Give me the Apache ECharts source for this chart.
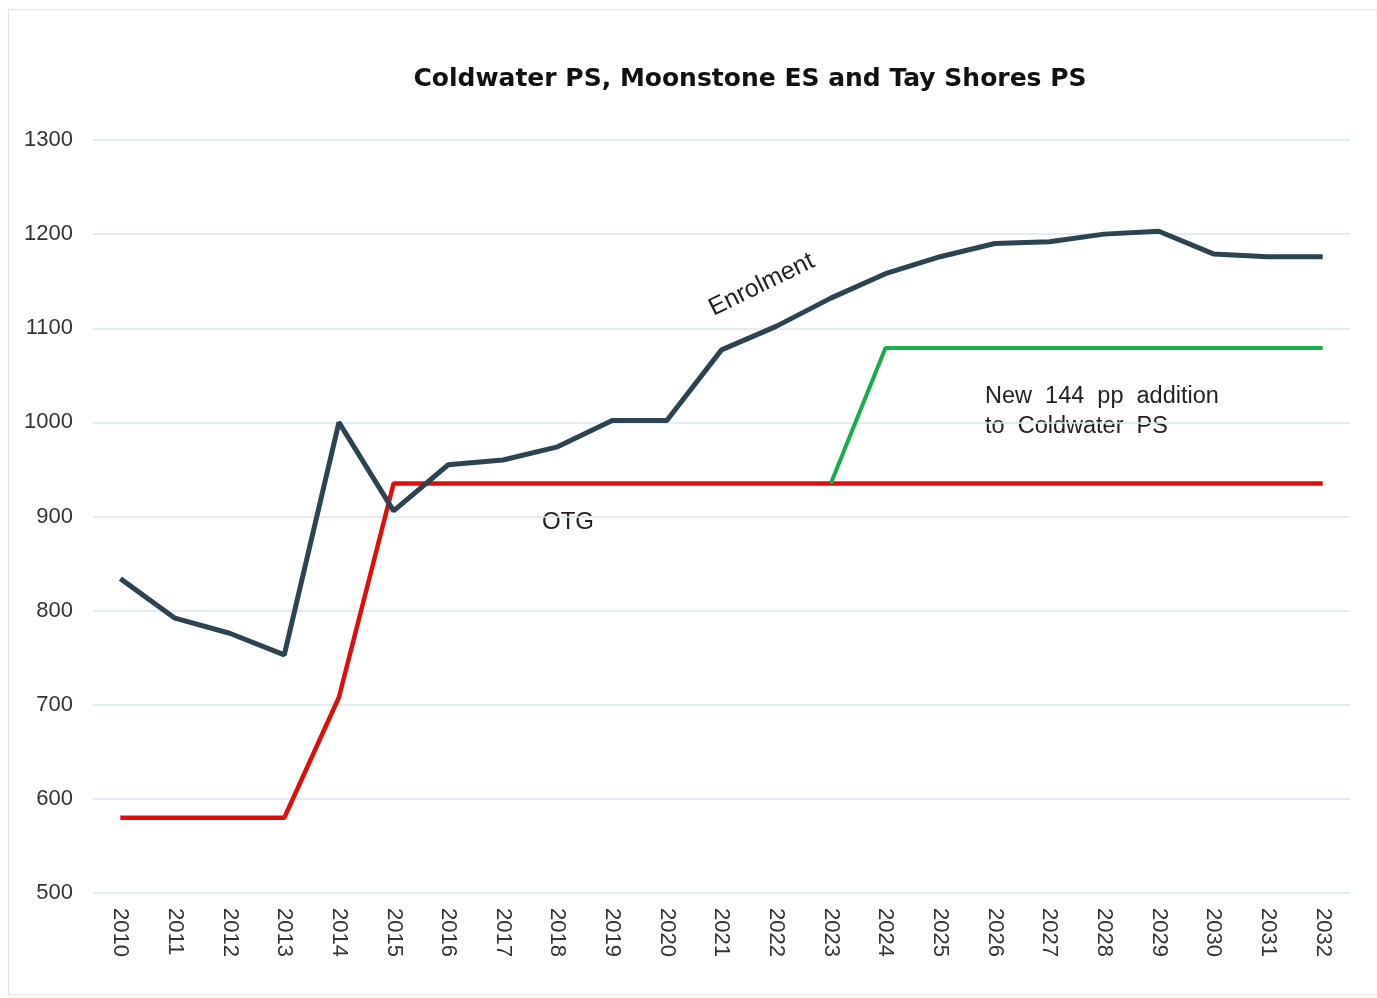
<!DOCTYPE html>
<html>
<head>
<meta charset="utf-8">
<script src="https://cdn.jsdelivr.net/npm/echarts@6/dist/echarts.min.js"></script>
<style>
  html, body { margin: 0; padding: 0; background: #fff; }
  .frame {
    position: absolute; left: 8px; top: 9px; width: 1375px; height: 986px;
    border: 1px solid #d5e6f0; box-sizing: border-box;
  }
  #chart { position: absolute; left: 0; top: 0; width: 1377px; height: 998px; }
</style>
</head>
<body>
<div class="frame"></div>
<div id="chart"></div>
<script>
const years = ["2010", "2011", "2012", "2013", "2014", "2015", "2016", "2017", "2018", "2019", "2020",
  "2021", "2022", "2023", "2024", "2025", "2026", "2027", "2028", "2029", "2030", "2031", "2032"]
const enrolment = [834, 792, 776, 753, 1000, 906, 955, 960, 974, 1002, 1002,
  1077, 1102, 1132, 1158, 1176, 1190, 1192, 1200, 1203, 1179, 1176, 1176]
const otg = [580, 580, 580, 580, 708, 935, 935, 935, 935, 935, 935,
  935, 935, 935, 935, 935, 935, 935, 935, 935, 935, 935, 935]
const addition = [null, null, null, null, null, null, null, null, null, null, null,
  null, null, 935, 1079, 1079, 1079, 1079, 1079, 1079, 1079, 1079, 1079]

const chart = echarts.init(document.getElementById("chart"))
const font = "Liberation Sans, Arial, sans-serif"

const option = {
  animation: false,
  title: {
    text: "Coldwater PS, Moonstone ES and Tay Shores PS",
    left: 745,
    top: 62,
    textAlign: "center",
    textStyle: { fontFamily: "DejaVu Sans", fontSize: 25, fontWeight: "bold", color: "#111" }
  },
  grid: { left: 93, right: 27, top: 140, bottom: 105 },
  xAxis: {
    type: "category",
    data: years,
    boundaryGap: true,
    axisLine: { show: false },
    axisTick: { show: false },
    axisLabel: { rotate: -90, margin: 15, fontFamily: font, fontSize: 22, color: "#333" }
  },
  yAxis: {
    type: "value",
    min: 500,
    max: 1300,
    interval: 100,
    axisLine: { show: false },
    axisTick: { show: false },
    axisLabel: { margin: 20, fontFamily: font, fontSize: 22, color: "#333", formatter: v => String(v) },
    splitLine: { lineStyle: { color: "#d9e6ef", width: 1.5 } }
  },
  series: [
    {
      name: "OTG",
      type: "line",
      data: otg,
      symbol: "none",
      lineStyle: { color: "#e00d0d", width: 4.5 },
      z: 2
    },
    {
      name: "Addition",
      type: "line",
      data: addition,
      symbol: "none",
      lineStyle: { color: "#17ad4c", width: 4 },
      z: 3
    },
    {
      name: "Enrolment",
      type: "line",
      data: enrolment,
      symbol: "none",
      lineStyle: { color: "#2c4352", width: 5 },
      z: 4
    }
  ],
  graphic: [
    {
      type: "text", x: 716, y: 321, rotation: 26 * Math.PI / 180,
      style: { text: "Enrolment", font: "25px " + font, fill: "#222", textVerticalAlign: "bottom" }
    },
    {
      type: "text", x: 542, y: 510,
      style: { text: "OTG", font: "24px " + font, fill: "#222" }
    },
    {
      type: "text", x: 985, y: 382,
      style: { text: "New  144  pp  addition\nto  Coldwater  PS", font: "23.5px " + font, fill: "#222", lineHeight: 30 }
    }
  ]
}
chart.setOption(option)
window.addEventListener("resize", () => chart.resize())
</script>
</body>
</html>
